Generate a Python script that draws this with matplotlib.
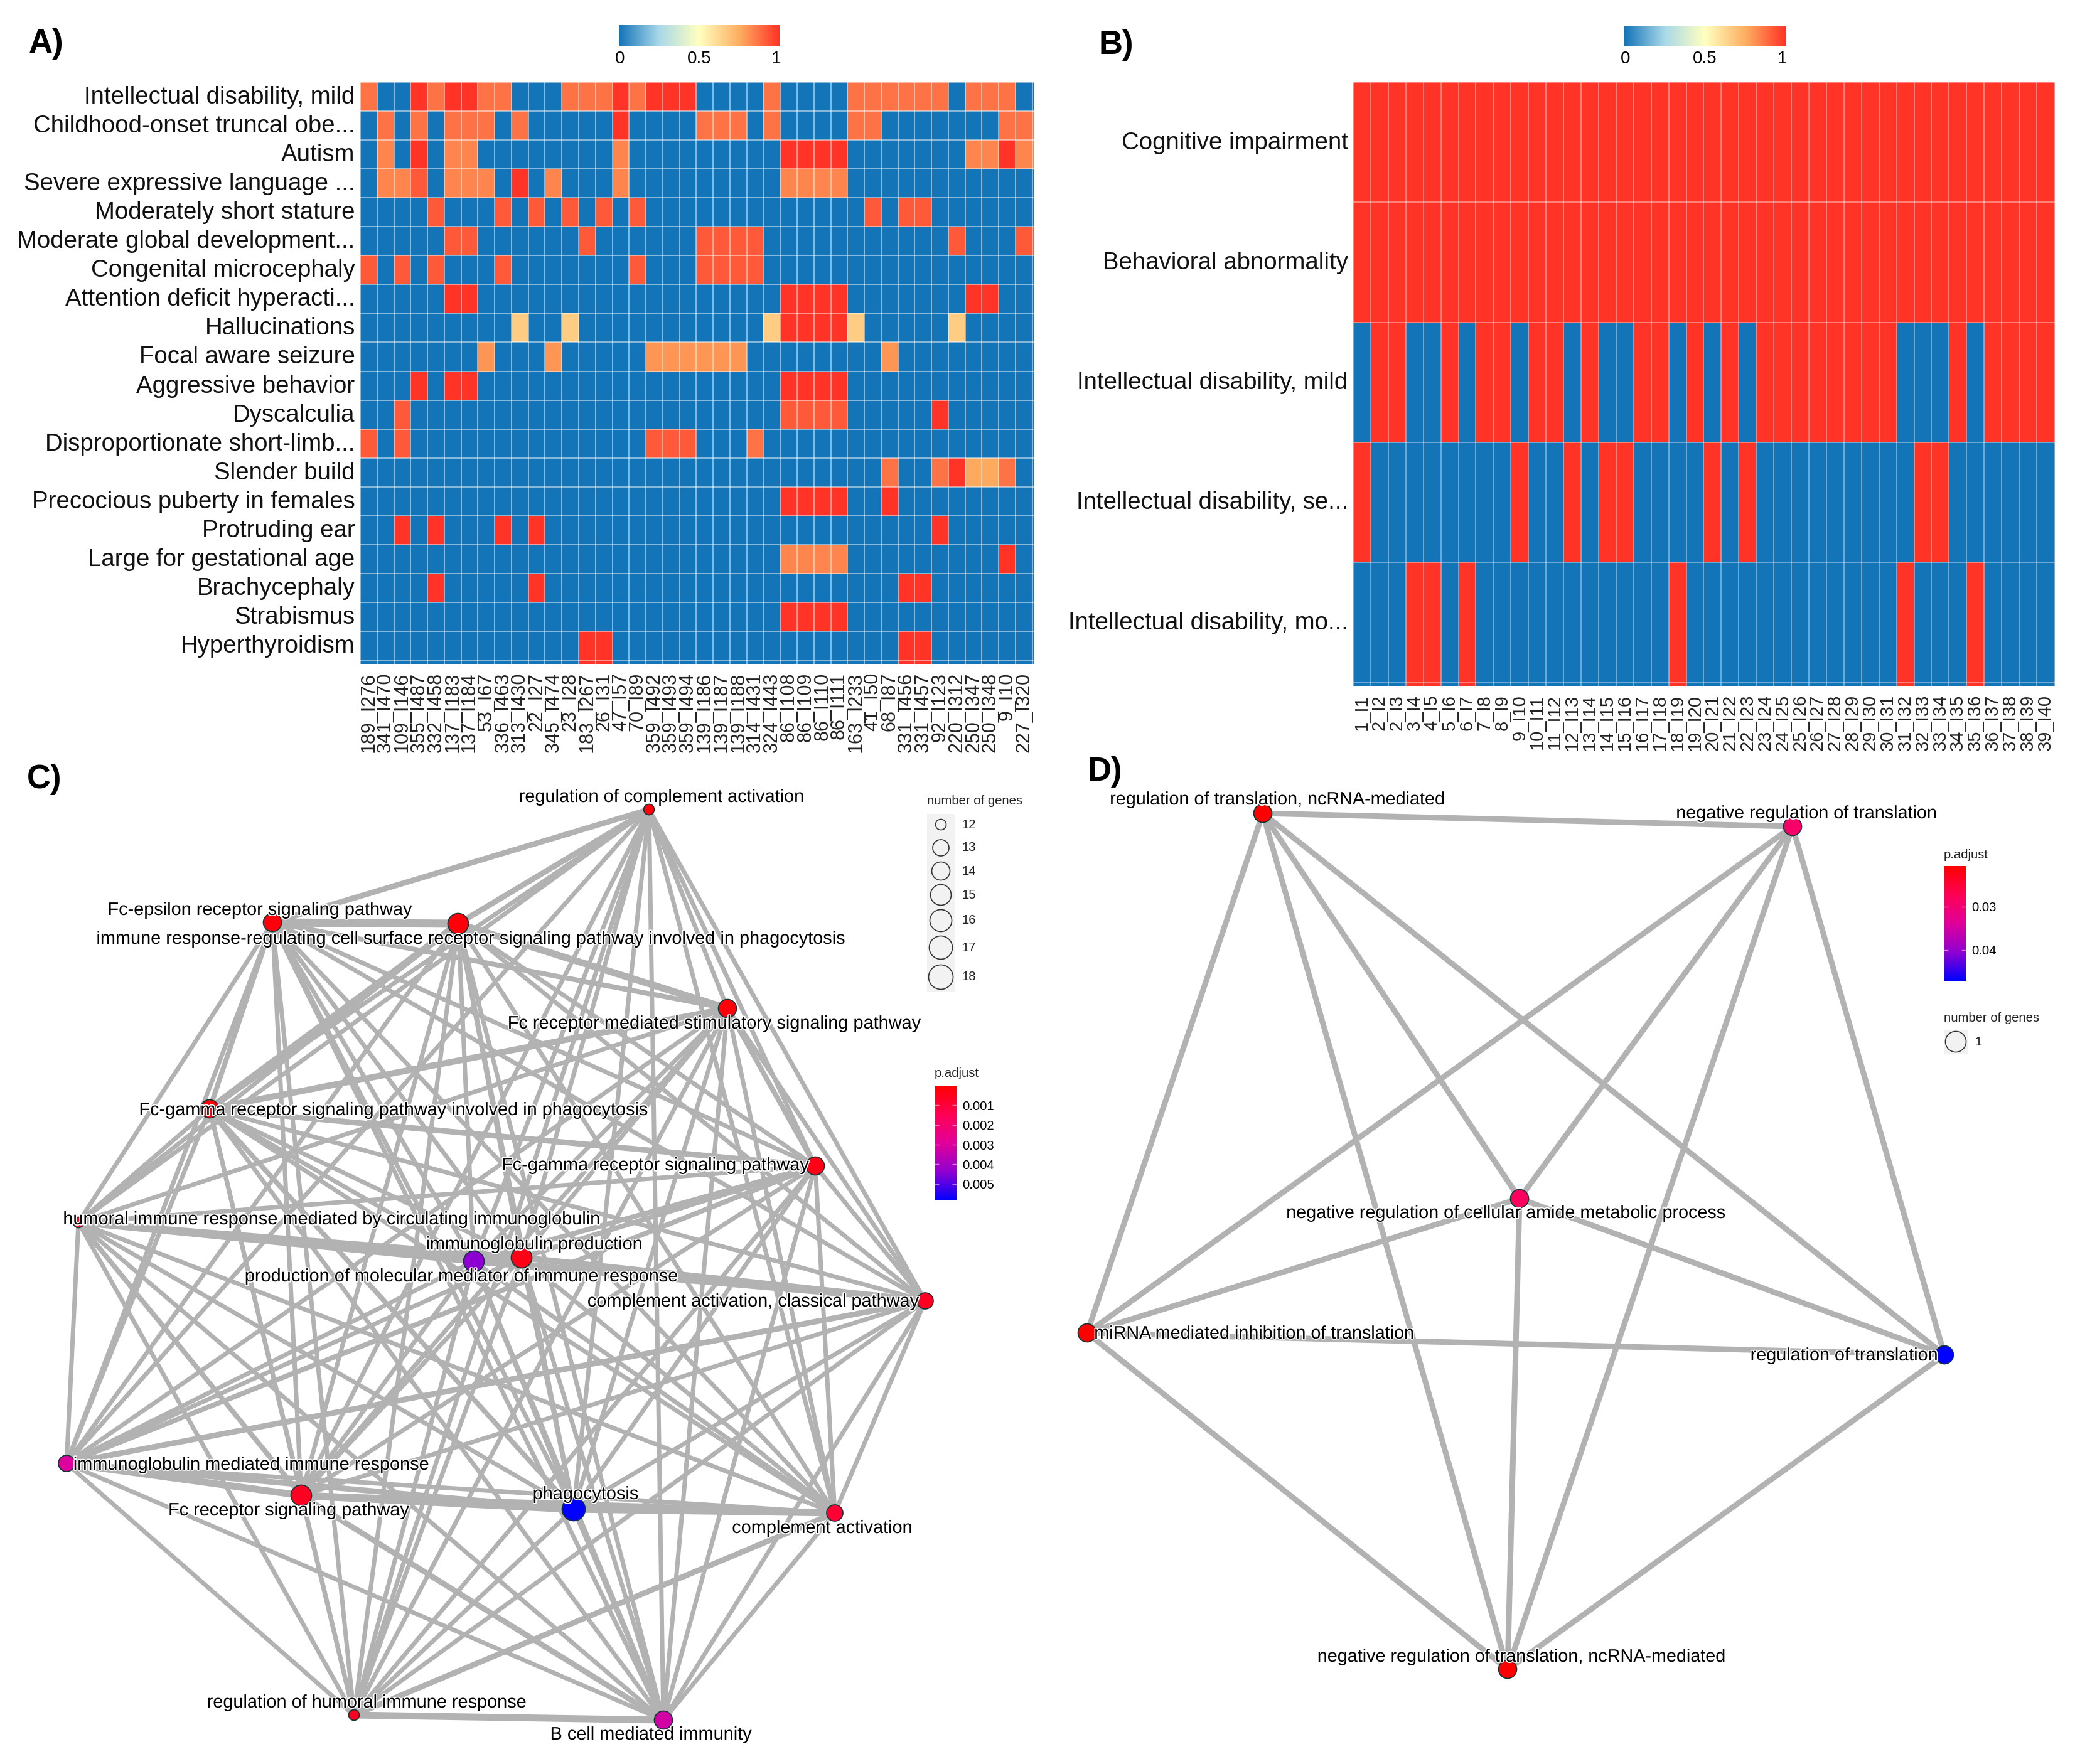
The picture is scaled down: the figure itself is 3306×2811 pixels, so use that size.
import matplotlib
matplotlib.use("Agg")
import matplotlib.pyplot as plt
import matplotlib.patheffects as pe
from matplotlib.cm import ScalarMappable
from matplotlib.colors import LinearSegmentedColormap, Normalize
from matplotlib.patches import Rectangle
from matplotlib.transforms import ScaledTranslation
import numpy as np

W, H = 3306, 2811
plt.rcParams["font.family"] = ["Liberation Sans", "DejaVu Sans"]

# ---- panel A data ---------------------------------------------------------
rows_a = ["Intellectual disability, mild", "Childhood-onset truncal obe...", "Autism",
          "Severe expressive language ...", "Moderately short stature",
          "Moderate global development...", "Congenital microcephaly",
          "Attention deficit hyperacti...", "Hallucinations", "Focal aware seizure",
          "Aggressive behavior", "Dyscalculia", "Disproportionate short-limb...",
          "Slender build", "Precocious puberty in females", "Protruding ear",
          "Large for gestational age", "Brachycephaly", "Strabismus", "Hyperthyroidism"]
cols_a = ["189_I276", "341_I470", "109_I146", "355_I487", "332_I458", "137_I183", "137_I184",
          "53_I67", "336_I463", "313_I430", "22_I27", "345_I474", "23_I28", "183_I267", "26_I31",
          "47_I57", "70_I89", "359_I492", "359_I493", "359_I494", "139_I186", "139_I187",
          "139_I188", "314_I431", "324_I443", "86_I108", "86_I109", "86_I110", "86_I111",
          "163_I233", "41_I50", "68_I87", "331_I456", "331_I457", "92_I123", "220_I312",
          "250_I347", "250_I348", "9_I10", "227_I320"]
R, a, b, c, d, e, f = 1.0, 0.92, 0.87, 0.83, 0.80, 0.76, 0.66
vals_a = [
    [b,0,0,R,b,R,R,b,b,0,0,0,b,b,b,R,b,R,R,R,0,0,0,0,b,0,0,0,0,b,b,b,b,b,b,0,b,b,b,0],
    [0,b,0,b,0,b,b,b,0,b,0,0,0,0,0,R,0,0,0,0,b,b,b,0,b,0,0,0,0,b,b,0,0,0,0,0,0,0,b,b],
    [0,c,0,R,0,c,c,0,0,0,0,0,0,0,0,c,0,0,0,0,0,0,0,0,0,R,R,R,R,0,0,0,0,0,0,0,c,c,R,c],
    [0,c,c,a,0,c,c,c,0,R,0,c,0,0,0,c,0,0,0,0,0,0,0,0,0,c,c,c,c,0,0,0,0,0,0,0,0,0,0,0],
    [0,0,0,0,a,0,0,0,a,0,a,0,a,0,a,0,a,0,0,0,0,0,0,0,0,0,0,0,0,0,a,0,a,a,0,0,0,0,0,0],
    [0,0,0,0,0,a,a,0,0,0,0,0,0,a,0,0,0,0,0,0,a,a,a,a,0,0,0,0,0,0,0,0,0,0,0,a,0,0,0,a],
    [a,0,a,0,a,0,0,0,a,0,0,0,0,0,0,0,a,0,0,0,a,a,a,a,0,0,0,0,0,0,0,0,0,0,0,0,0,0,0,0],
    [0,0,0,0,0,R,R,0,0,0,0,0,0,0,0,0,0,0,0,0,0,0,0,0,0,R,R,R,R,0,0,0,0,0,0,0,R,R,0,0],
    [0,0,0,0,0,0,0,0,0,f,0,0,f,0,0,0,0,0,0,0,0,0,0,0,f,R,R,R,R,f,0,0,0,0,0,f,0,0,0,0],
    [0,0,0,0,0,0,0,d,0,0,0,d,0,0,0,0,0,d,d,d,d,d,d,0,0,0,0,0,0,0,0,d,0,0,0,0,0,0,0,0],
    [0,0,0,R,0,R,R,0,0,0,0,0,0,0,0,0,0,0,0,0,0,0,0,0,0,R,R,R,R,0,0,0,0,0,0,0,0,0,0,0],
    [0,0,a,0,0,0,0,0,0,0,0,0,0,0,0,0,0,0,0,0,0,0,0,0,0,a,a,a,a,0,0,0,0,0,R,0,0,0,0,0],
    [a,0,a,0,0,0,0,0,0,0,0,0,0,0,0,0,0,a,a,a,0,0,0,b,0,0,0,0,0,0,0,0,0,0,0,0,0,0,0,0],
    [0,0,0,0,0,0,0,0,0,0,0,0,0,0,0,0,0,0,0,0,0,0,0,0,0,0,0,0,0,0,0,b,0,0,b,R,e,e,b,0],
    [0,0,0,0,0,0,0,0,0,0,0,0,0,0,0,0,0,0,0,0,0,0,0,0,0,R,R,R,R,0,0,R,0,0,0,0,0,0,0,0],
    [0,0,R,0,R,0,0,0,R,0,R,0,0,0,0,0,0,0,0,0,0,0,0,0,0,0,0,0,0,0,0,0,0,0,R,0,0,0,0,0],
    [0,0,0,0,0,0,0,0,0,0,0,0,0,0,0,0,0,0,0,0,0,0,0,0,0,c,c,c,c,0,0,0,0,0,0,0,0,0,R,0],
    [0,0,0,0,R,0,0,0,0,0,R,0,0,0,0,0,0,0,0,0,0,0,0,0,0,0,0,0,0,0,0,0,R,R,0,0,0,0,0,0],
    [0,0,0,0,0,0,0,0,0,0,0,0,0,0,0,0,0,0,0,0,0,0,0,0,0,R,R,R,R,0,0,0,0,0,0,0,0,0,0,0],
    [0,0,0,0,0,0,0,0,0,0,0,0,0,R,R,0,0,0,0,0,0,0,0,0,0,0,0,0,0,0,0,0,R,R,0,0,0,0,0,0],
]

# ---- panel B data ---------------------------------------------------------
rows_b = ["Cognitive impairment", "Behavioral abnormality", "Intellectual disability, mild",
          "Intellectual disability, se...", "Intellectual disability, mo..."]
cols_b = ["1_I1", "2_I2", "2_I3", "3_I4", "4_I5", "5_I6", "6_I7", "7_I8", "8_I9", "9_I10",
          "10_I11", "11_I12", "12_I13", "13_I14", "14_I15", "15_I16", "16_I17", "17_I18",
          "18_I19", "19_I20", "20_I21", "21_I22", "22_I23", "23_I24", "24_I25", "25_I26",
          "26_I27", "27_I28", "28_I29", "29_I30", "30_I31", "31_I32", "32_I33", "33_I34",
          "34_I35", "35_I36", "36_I37", "37_I38", "38_I39", "39_I40"]
vals_b = [
    [1,1,1,1,1,1,1,1,1,1,1,1,1,1,1,1,1,1,1,1,1,1,1,1,1,1,1,1,1,1,1,1,1,1,1,1,1,1,1,1],
    [1,1,1,1,1,1,1,1,1,1,1,1,1,1,1,1,1,1,1,1,1,1,1,1,1,1,1,1,1,1,1,1,1,1,1,1,1,1,1,1],
    [0,1,1,0,0,1,0,1,1,0,1,1,0,1,0,0,1,1,0,1,0,1,0,1,1,1,1,1,1,1,1,0,0,0,1,0,1,1,1,1],
    [1,0,0,0,0,0,0,0,0,1,0,0,1,0,1,1,0,0,0,0,1,0,1,0,0,0,0,0,0,0,0,0,1,1,0,0,0,0,0,0],
    [0,0,0,1,1,0,1,0,0,0,0,0,0,0,0,0,0,0,1,0,0,0,0,0,0,0,0,0,0,0,0,1,0,0,0,1,0,0,0,0],
]

# ---- panel C data ---------------------------------------------------------
terms_c = ["regulation of complement activation", "Fc-epsilon receptor signaling pathway",
           "immune response-regulating cell surface receptor signaling pathway involved in phagocytosis",
           "Fc receptor mediated stimulatory signaling pathway",
           "Fc-gamma receptor signaling pathway involved in phagocytosis",
           "Fc-gamma receptor signaling pathway",
           "humoral immune response mediated by circulating immunoglobulin",
           "immunoglobulin production", "production of molecular mediator of immune response",
           "complement activation, classical pathway", "immunoglobulin mediated immune response",
           "Fc receptor signaling pathway", "phagocytosis", "complement activation",
           "regulation of humoral immune response", "B cell mediated immunity"]
node_x_c = [1034, 434, 730, 1159, 334, 1299, 125, 831, 755, 1474, 106, 480, 914, 1330, 564, 1057]
node_y_c = [1290, 1470, 1472, 1607, 1767, 1858, 1948, 2004, 2010, 2073, 2332, 2383, 2405, 2411, 2733, 2741]
genes_c = [12, 14, 15, 14, 14, 14, 12, 15, 15, 13, 13, 15, 17, 13, 12, 14]
padj_c = [0.0002, 0.0002, 0.0002, 0.0002, 0.0002, 0.0004, 0.0006, 0.0004, 0.0044, 0.0006,
          0.0030, 0.0006, 0.0058, 0.0009, 0.0006, 0.0032]
label_x_c = [1054, 414, 750, 1138, 627, 1044, 528, 851, 735, 1200, 400, 460, 933, 1310, 584, 1037]
label_y_c = [1270, 1450, 1496, 1631, 1769, 1857, 1943, 1983, 2034, 2074, 2334, 2407, 2381, 2435, 2713, 2764]
# (node, node, width px) for the heavier edges, everything else is thin
heavy_c = [(1, 2, 13), (0, 1, 9), (0, 2, 9), (2, 3, 11), (1, 3, 8), (2, 4, 11), (1, 4, 8),
           (3, 4, 10), (4, 5, 9), (3, 5, 8), (6, 7, 10), (6, 8, 10), (7, 8, 12), (8, 9, 10),
           (7, 9, 10), (5, 7, 8), (5, 8, 8), (10, 11, 11), (10, 12, 9), (11, 12, 12),
           (11, 13, 10), (12, 13, 11), (14, 15, 11), (9, 10, 9), (5, 10, 8), (13, 14, 9),
           (11, 15, 9), (4, 12, 8), (6, 11, 8)]
thin_c = 7
legend_genes_c = [12, 13, 14, 15, 16, 17, 18]
legend_diam_c = [17, 26, 29, 33, 35, 37, 39]   # px
legend_y_c = [1314, 1351, 1388, 1426, 1467, 1510, 1557]

# ---- panel D data ---------------------------------------------------------
terms_d = ["regulation of translation, ncRNA-mediated", "negative regulation of translation",
           "negative regulation of cellular amide metabolic process",
           "miRNA mediated inhibition of translation", "regulation of translation",
           "negative regulation of translation, ncRNA-mediated"]
node_x_d = [2012, 2856, 2421, 1732, 3098, 2402]
node_y_d = [1296, 1317, 1910, 2124, 2159, 2660]
padj_d = [0.0207, 0.029, 0.028, 0.0207, 0.047, 0.0207]
label_x_d = [2035, 2878, 2399, 1998, 2938, 2424]
label_y_d = [1274, 1296, 1933, 2125, 2160, 2640]

# ---- style ----------------------------------------------------------------
heat_cmap = LinearSegmentedColormap.from_list(
    "heat", ["#1474B8", "#A8D8E8", "#FFFFBF", "#FDAE61", "#FF3326"])
padj_cmap = LinearSegmentedColormap.from_list(
    "padj", ["#FF0000", "#FF0055", "#E0009A", "#9000D0", "#0000FF"])
EDGE = "#B2B2B2"
NODE_EDGE = "#0F3535"
halo = [pe.withStroke(linewidth=2.5, foreground="white")]


def px_rect(x0, y0, x1, y1):
    return [x0 / W, 1 - y1 / H, (x1 - x0) / W, (y1 - y0) / H]


def px_to_pt(v):
    return v * 72 / 100


def heatmap(box, vals, rows, cols, tail_x, tail_y, grid_lw, tick_fs):
    ax = fig.add_axes(px_rect(*box))
    vals = np.array(vals)
    xe = np.arange(vals.shape[1] + 1, dtype=float)
    ye = np.arange(vals.shape[0] + 1, dtype=float)
    xe[-1] += tail_x
    ye[-1] += tail_y
    ax.pcolormesh(xe, ye, vals, cmap=heat_cmap, vmin=0, vmax=1)
    ax.set_xlim(0, xe[-1])
    ax.set_ylim(ye[-1], 0)
    ax.hlines(np.arange(vals.shape[0] + 1), 0, xe[-1], color="white", alpha=0.5, lw=grid_lw)
    ax.vlines(np.arange(vals.shape[1] + 1), 0, ye[-1], color="white", alpha=0.5, lw=grid_lw)
    ax.set_xticks(np.arange(vals.shape[1]) + 0.5)
    ax.set_xticklabels(cols, rotation=90, fontsize=tick_fs, color="#222222")
    ax.set_yticks(np.arange(vals.shape[0]) + 0.5)
    ax.set_yticklabels(rows, fontsize=27.6, color="#111111")
    ax.tick_params(axis="x", length=0, pad=10)
    ax.tick_params(axis="y", length=0, pad=6)
    # labels sit a little above the row centres
    nudge = ScaledTranslation(0, 3 / 100, fig.dpi_scale_trans)
    for lbl in ax.get_yticklabels():
        lbl.set_transform(lbl.get_transform() + nudge)
    for s in ax.spines.values():
        s.set_visible(False)
    return ax


def heat_colorbar(box):
    cax = fig.add_axes(px_rect(*box))
    cb = fig.colorbar(ScalarMappable(Normalize(0, 1), heat_cmap), cax=cax, orientation="horizontal")
    cb.outline.set_visible(False)
    cb.set_ticks([0.005, 0.5, 0.98], labels=["0", "0.5", "1"])
    cax.tick_params(length=0, labelsize=20, pad=5)


def padj_colorbar(box, vmin, vmax, ticks, labels):
    cax = fig.add_axes(px_rect(*box))
    cb = fig.colorbar(ScalarMappable(Normalize(vmin, vmax), padj_cmap), cax=cax)
    cb.outline.set_visible(False)
    cax.invert_yaxis()
    cb.set_ticks(ticks, labels=labels)
    cax.tick_params(length=0, labelsize=14.6, pad=7)
    cax.hlines(ticks, 0, 0.2, transform=cax.get_yaxis_transform(), color="white", alpha=0.5, lw=1)
    cax.hlines(ticks, 0.8, 1, transform=cax.get_yaxis_transform(), color="white", alpha=0.5, lw=1)


# ---- figure ---------------------------------------------------------------
fig = plt.figure(figsize=(W / 100, H / 100), dpi=100, facecolor="white")
net = fig.add_axes([0, 0, 1, 1])
net.set_xlim(0, W)
net.set_ylim(H, 0)
net.axis("off")

for txt, x, y in [("A)", 46, 70), ("B)", 1751, 72), ("C)", 43, 1242), ("D)", 1733, 1230)]:
    net.text(x, y, txt, fontsize=38, weight="bold", ha="left", va="center",
             family=["Liberation Sans Narrow", "Liberation Sans"])

heatmap((574, 131, 1648, 1058), vals_a, rows_a, cols_a, 0.12, 0.13, 1.4, 22)
heat_colorbar((986, 40, 1242, 74))
heatmap((2156, 131, 3274, 1093), vals_b, rows_b, cols_b, 0.04, 0.03, 1.1, 21)
heat_colorbar((2588, 42, 2845, 74))

# network C
for i in range(len(terms_c)):
    for j in range(i + 1, len(terms_c)):
        width = thin_c
        for p, q, w in heavy_c:
            if {p, q} == {i, j}:
                width = w
        net.plot([node_x_c[i], node_x_c[j]], [node_y_c[i], node_y_c[j]], color=EDGE,
                 lw=px_to_pt(width), solid_capstyle="round", zorder=1)
diam_c = [legend_diam_c[legend_genes_c.index(g)] for g in genes_c]
net.scatter(node_x_c, node_y_c, s=[px_to_pt(v) ** 2 for v in diam_c], c=padj_c,
            cmap=padj_cmap, vmin=0, vmax=0.00584, edgecolors=NODE_EDGE, linewidths=1.2, zorder=3)
for t, x, y in zip(terms_c, label_x_c, label_y_c):
    net.text(x, y, t, fontsize=20.8, ha="center", va="center", color="black",
             path_effects=halo, zorder=4)

# network D, all pairs linked
for i in range(len(terms_d)):
    for j in range(i + 1, len(terms_d)):
        net.plot([node_x_d[i], node_x_d[j]], [node_y_d[i], node_y_d[j]], color=EDGE,
                 lw=px_to_pt(9), solid_capstyle="round", zorder=1)
net.scatter(node_x_d, node_y_d, s=px_to_pt(29) ** 2, c=padj_d, cmap=padj_cmap,
            vmin=0.0206, vmax=0.0471, edgecolors=NODE_EDGE, linewidths=1.2, zorder=3)
for t, x, y in zip(terms_d, label_x_d, label_y_d):
    net.text(x, y, t, fontsize=20.7, ha="center", va="center", color="black",
             path_effects=halo, zorder=4)

# legends
net.text(1477, 1276, "number of genes", fontsize=14.6, va="center", color="#222222")
net.add_patch(Rectangle((1477, 1297), 45, 283, fc="#F2F2F2", ec="none", zorder=1))
net.scatter([1499] * 7, legend_y_c, s=[px_to_pt(v) ** 2 for v in legend_diam_c],
            facecolors="none", edgecolors="#333333", linewidths=1.2, zorder=2)
for g, y in zip(legend_genes_c, legend_y_c):
    net.text(1533, y, str(g), fontsize=14.6, va="center", color="#222222")
net.text(1489, 1711, "p.adjust", fontsize=14.6, va="center", color="#222222")
padj_colorbar((1489, 1730, 1524, 1913), 0, 0.00584,
              [0.001, 0.002, 0.003, 0.004, 0.005], ["0.001", "0.002", "0.003", "0.004", "0.005"])

net.text(3097, 1362, "p.adjust", fontsize=14.6, va="center", color="#222222")
padj_colorbar((3097, 1380, 3132, 1563), 0.0206, 0.0471, [0.03, 0.04], ["0.03", "0.04"])
net.text(3097, 1622, "number of genes", fontsize=14.6, va="center", color="#222222")
net.add_patch(Rectangle((3097, 1641), 38, 39, fc="#F2F2F2", ec="none", zorder=1))
net.scatter([3116], [1660], s=px_to_pt(33) ** 2, facecolors="none", edgecolors="#333333",
            linewidths=1.2, zorder=2)
net.text(3146, 1660, "1", fontsize=14.6, va="center", color="#222222")

fig.savefig("out.png", dpi=100, facecolor="white")
